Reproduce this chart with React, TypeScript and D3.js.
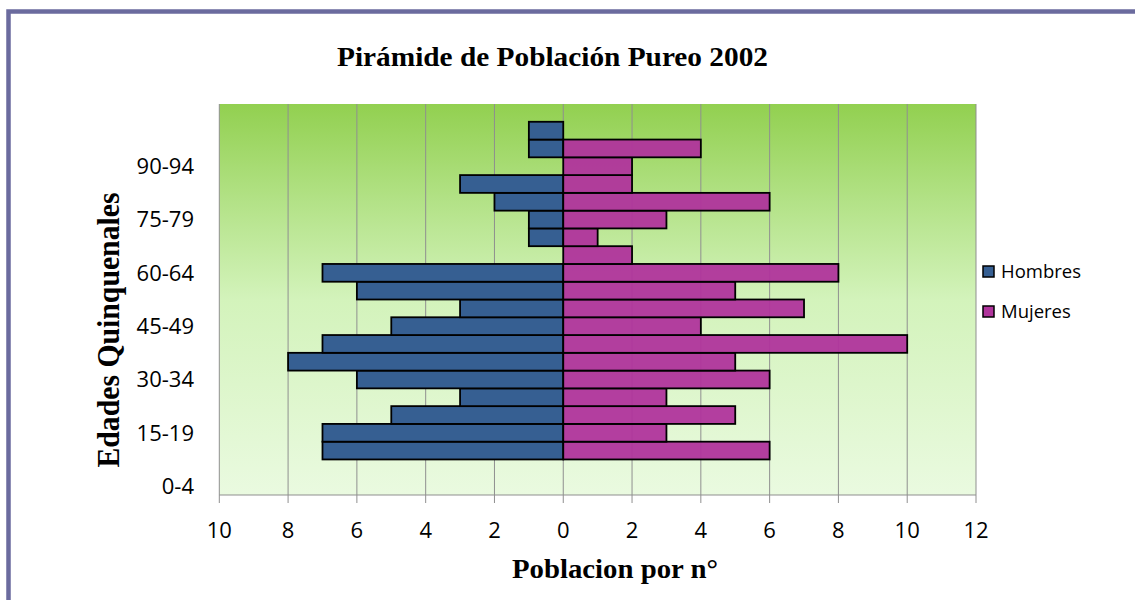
import React from "react";
import * as d3 from "d3";

const categories = [
  "0-4", "5-9", "10-14", "15-19", "20-24", "25-29", "30-34", "35-39",
  "40-44", "45-49", "50-54", "55-59", "60-64", "65-69", "70-74", "75-79",
  "80-84", "85-89", "90-94", "95-99", "100-104", "105-109",
];
const hombres = [0, 0, 7, 7, 5, 3, 6, 8, 7, 5, 3, 6, 7, 0, 1, 1, 2, 3, 0, 1, 1, 0];
const mujeres = [0, 0, 6, 3, 5, 3, 6, 5, 10, 4, 7, 5, 8, 2, 1, 3, 6, 2, 2, 4, 0, 0];
const xTicks = [-10, -8, -6, -4, -2, 0, 2, 4, 6, 8, 10, 12];
const yLabels = ["0-4", "15-19", "30-34", "45-49", "60-64", "75-79", "90-94"];
const seriesNames = ["Hombres", "Mujeres"];
const seriesColors = ["#365f92", "#b0349c"];

const W = 1135;
const H = 600;
const plot = { left: 219.3, right: 976, top: 104, bottom: 495 };
const tickFont = "'Open Sans', 'Noto Sans', sans-serif";
const serif = "'Liberation Serif', 'DejaVu Serif', serif";

export default function App() {
  const x = d3.scaleLinear().domain([-10, 12]).range([plot.left, plot.right]);
  const y = d3
    .scaleBand<string>()
    .domain(categories)
    .range([plot.bottom, plot.top])
    .padding(0);
  const bw = y.bandwidth();

  return (
    <svg
      width={W}
      height={H}
      style={{ position: "absolute", left: 0, top: 0, background: "#fff" }}
    >
      <defs>
        <linearGradient id="bg" x1="0" y1="0" x2="0" y2="1">
          <stop offset="0%" stopColor="#92d050" />
          <stop offset="25%" stopColor="#b3e287" />
          <stop offset="50%" stopColor="#d3f3bb" />
          <stop offset="100%" stopColor="#eafae0" />
        </linearGradient>
      </defs>
      {/* frame */}
      <path
        d={`M 1140 11.5 L 8.5 11.5 L 8.5 610`}
        fill="none"
        stroke="#6b6b9e"
        strokeWidth={4.5}
      />
      {/* plot background */}
      <rect
        x={plot.left}
        y={plot.top}
        width={plot.right - plot.left}
        height={plot.bottom - plot.top}
        fill="url(#bg)"
      />
      {/* gridlines */}
      {xTicks.map((t) => (
        <line
          key={"g" + t}
          x1={x(t)}
          x2={x(t)}
          y1={plot.top}
          y2={plot.bottom + 8}
          stroke="#8f8f8f"
          strokeWidth={1}
        />
      ))}
      <line
        x1={plot.left}
        x2={plot.right}
        y1={plot.bottom}
        y2={plot.bottom}
        stroke="#8f8f8f"
        strokeWidth={1}
      />
      {/* bars */}
      {categories.map((c, i) =>
        hombres[i] > 0 ? (
          <rect
            key={"h" + c}
            x={x(-hombres[i])}
            y={y(c)!}
            width={x(0) - x(-hombres[i])}
            height={bw}
            fill={seriesColors[0]}
            stroke="#000"
            strokeWidth={1.8}
          />
        ) : null
      )}
      {categories.map((c, i) =>
        mujeres[i] > 0 ? (
          <rect
            key={"m" + c}
            x={x(0)}
            y={y(c)!}
            width={x(mujeres[i]) - x(0)}
            height={bw}
            fill={seriesColors[1]}
            fillOpacity={0.95}
            stroke="#000"
            strokeWidth={1.8}
          />
        ) : null
      )}
      {/* x tick labels */}
      {xTicks.map((t) => (
        <text
          key={"t" + t}
          x={x(t)}
          y={538}
          textAnchor="middle"
          fontFamily={tickFont}
          fontSize={22}
          fill="#000"
        >
          {Math.abs(t)}
        </text>
      ))}
      {/* y tick labels */}
      {yLabels.map((c) => (
        <text
          key={"y" + c}
          x={194}
          y={y(c)! + bw / 2}
          dy="0.36em"
          textAnchor="end"
          fontFamily={tickFont}
          fontSize={22}
          fill="#000"
        >
          {c}
        </text>
      ))}
      {/* title */}
      <text
        x={552.5}
        y={66}
        textAnchor="middle"
        fontFamily={serif}
        fontWeight="bold"
        fontSize={27}
        textLength={431}
        lengthAdjust="spacingAndGlyphs"
      >
        Pirámide de Población Pureo 2002
      </text>
      {/* x axis title */}
      <text
        x={615}
        y={578}
        textAnchor="middle"
        fontFamily={serif}
        fontWeight="bold"
        fontSize={27}
        textLength={206}
        lengthAdjust="spacingAndGlyphs"
      >
        Poblacion por n°
      </text>
      {/* y axis title */}
      <text
        transform={`translate(119, 330) rotate(-90) scale(1, 1.15)`}
        textAnchor="middle"
        fontFamily={serif}
        fontWeight="bold"
        fontSize={28}
        textLength={275}
        lengthAdjust="spacingAndGlyphs"
      >
        Edades Quinquenales
      </text>
      {/* legend */}
      {seriesNames.map((s, i) => (
        <g key={s} transform={`translate(983, ${266 + i * 40})`}>
          <rect
            x={0}
            y={0}
            width={11}
            height={11}
            fill={seriesColors[i]}
            stroke="#000"
            strokeWidth={1.5}
          />
          <text
            x={18}
            y={5.5}
            dy="0.36em"
            fontFamily={tickFont}
            fontSize={18.5}
            fill="#000"
          >
            {s}
          </text>
        </g>
      ))}
    </svg>
  );
}
